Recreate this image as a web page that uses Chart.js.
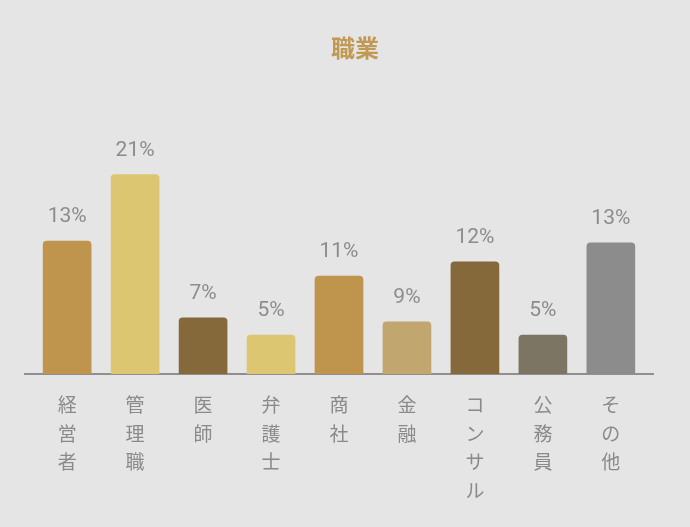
<!DOCTYPE html>
<html>
<head>
<meta charset="utf-8">
<script src="https://cdn.jsdelivr.net/npm/chart.js@4"></script>
<style>
  html, body { margin: 0; padding: 0; background: #e5e5e5; }
  #wrap { position: relative; width: 690px; height: 527px; }
  #title { position: absolute; left: 355px; top: 35px; transform: translateX(-50%);
           font-family: "Noto Sans CJK JP", "Noto Sans", sans-serif; font-weight: 700;
           font-size: 24px; line-height: 24px; color: #c09a54; white-space: nowrap; }
  canvas { display: block; }
</style>
</head>
<body>
<div id="wrap">
  <div id="title">職業</div>
  <canvas id="c" width="690" height="527"></canvas>
</div>
<script>
const categories = ['経営者', '管理職', '医師', '弁護士', '商社', '金融', 'コンサル', '公務員', 'その他'];
const values = [14.0, 21.0, 5.9, 4.1, 10.3, 5.5, 11.8, 4.1, 13.8];
const valueLabels = ['13%', '21%', '7%', '5%', '11%', '9%', '12%', '5%', '13%'];
const colors = ['#bf944c', '#dcc672', '#86693a', '#dcc672', '#bf944c', '#c2a66f', '#86693a', '#7d7563', '#8c8c8c'];

const points = values.map((v, i) => ({ x: i, y: v }));

const valueLabelPlugin = {
  id: 'valueLabels',
  afterDatasetsDraw(chart) {
    const ctx = chart.ctx;
    const meta = chart.getDatasetMeta(0);
    ctx.save();
    ctx.font = '400 21px Roboto, "Noto Sans", sans-serif';
    ctx.fillStyle = '#8c8c8c';
    ctx.textAlign = 'center';
    ctx.textBaseline = 'alphabetic';
    meta.data.forEach((bar, i) => {
      ctx.fillText(valueLabels[i], bar.x, bar.y - 19);
    });
    ctx.restore();
  }
};

new Chart(document.getElementById('c'), {
  type: 'bar',
  data: {
    datasets: [{
      data: points,
      backgroundColor: colors,
      borderRadius: 4,
      barThickness: 48
    }]
  },
  options: {
    responsive: false,
    animation: false,
    layout: { padding: { left: 25, right: 37, top: 89, bottom: 5 } },
    plugins: { legend: { display: false }, title: { display: false }, tooltip: { enabled: false } },
    scales: {
      x: {
        type: 'linear',
        offset: false,
        min: -0.62,
        max: 8.62,
        grid: { display: false, drawTicks: false },
        border: { display: true, color: '#8f8f8f', width: 2 },
        ticks: {
          stepSize: 1,
          includeBounds: false,
          autoSkip: false,
          maxRotation: 0,
          minRotation: 0,
          padding: 17,
          color: '#8a8a8a',
          font: { family: '"Noto Sans CJK JP"', size: 19, lineHeight: 1.5 },
          callback: (v) => {
            const label = categories[v];
            return label ? Array.from(label) : '';
          }
        }
      },
      y: {
        display: false,
        min: 0,
        max: 30
      }
    }
  },
  plugins: [valueLabelPlugin]
});
</script>
</body>
</html>
